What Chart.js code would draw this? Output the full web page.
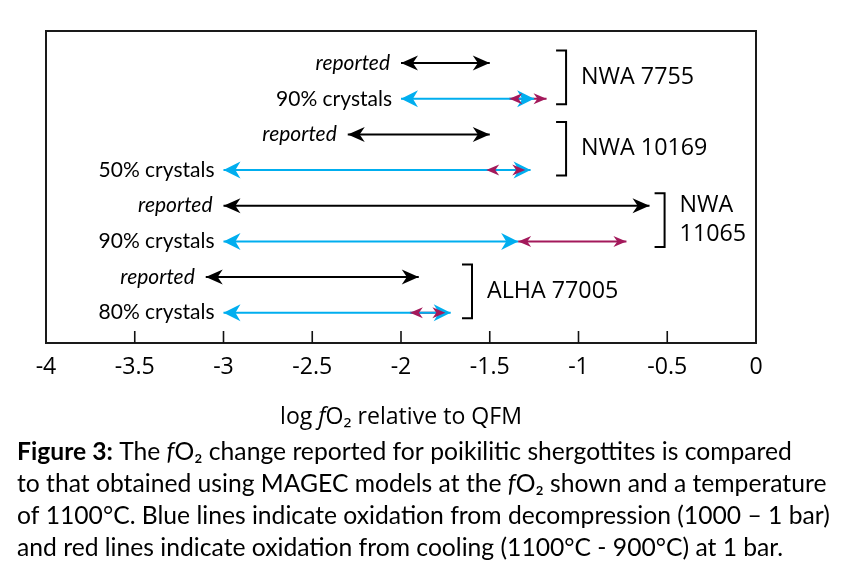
<!DOCTYPE html>
<html><head><meta charset="utf-8">
<script src="https://cdn.jsdelivr.net/npm/chart.js@4.4.1/dist/chart.umd.min.js"></script>
<style>html,body{margin:0;padding:0;background:#fff;} #wrap{position:relative;width:852px;height:571px;}</style>
</head><body><div id="wrap"><canvas id="c" width="852" height="571"></canvas></div>
<script>
// ---------------- DATA ----------------
const meteorites = [['NWA 7755'], ['NWA 10169'], ['NWA', '11065'], ['ALHA 77005']];
const reportedLabel = 'reported';
const crystalLabels = ['90% crystals', '50% crystals', '90% crystals', '80% crystals'];
const reportedFrom = [-2.0, -2.3, -3.0, -3.1];
const reportedTo   = [-1.5, -1.5, -0.6, -1.9];
const decompFrom   = [-2.0, -3.0, -3.0, -3.0];
const decompTo     = [-1.25, -1.27, -1.34, -1.72];
const coolFrom     = [-1.39, -1.52, -1.34, -1.95];
const coolTo       = [-1.18, -1.30, -0.73, -1.75];
const xTickValues  = [-4, -3.5, -3, -2.5, -2, -1.5, -1, -0.5, 0];
const xTickLabels  = ['-4', '-3.5', '-3', '-2.5', '-2', '-1.5', '-1', '-0.5', '0'];
const axisTitle = [{t: 'log '}, {t: 'f', s: 'italic'}, {t: 'O\u2082 relative to QFM'}];
const caption = [
  [{t: 'Figure 3:', w: 'bold'}, {t: ' The '}, {t: 'f', s: 'italic'}, {t: 'O\u2082 change reported for poikilitic shergottites is compared'}],
  [{t: 'to that obtained using MAGEC models at the '}, {t: 'f', s: 'italic'}, {t: 'O\u2082 shown and a temperature'}],
  [{t: 'of 1100\u00b0C. Blue lines indicate oxidation from decompression (1000 \u2013 1 bar)'}],
  [{t: 'and red lines indicate oxidation from cooling (1100\u00b0C - 900\u00b0C) at 1 bar.'}]
];

// ---------------- STYLE / LAYOUT ----------------
const BRACKET_X = [-1.07, -1.07, -0.515, -1.60];
const COL_BLACK = '#000000', COL_BLUE = '#00aeef', COL_RED = '#a3195b';
const F_MYR = '"Open Sans", "Noto Sans", sans-serif';
const F_CAL = 'Lato, "Noto Sans", sans-serif';

const mctx = document.createElement('canvas').getContext('2d');
function fontStr(seg, size, fam) { return (seg.s || 'normal') + ' ' + (seg.w || '400') + ' ' + size + 'px ' + fam; }
function segWidth(segs, size, fam) {
  let w = 0; for (const s of segs) { mctx.font = fontStr(s, size, fam); w += mctx.measureText(s.t).width; } return w;
}
function fit(segs, target, fam) { return 100 * target / segWidth(segs, 100, fam); }
function drawRich(ctx, segs, x, y, size, fam, align) {
  const w = segWidth(segs, size, fam);
  let cx = align === 'center' ? x - w / 2 : (align === 'right' ? x - w : x);
  ctx.textAlign = 'left';
  for (const s of segs) { ctx.font = fontStr(s, size, fam); ctx.fillText(s.t, cx, y); cx += ctx.measureText(s.t).width; }
}

const tickSize = fit([{t: '-2.5'}], 40, F_MYR);
const bracketSize = fit([{t: 'NWA 7755'}], 113, F_MYR);
const titleSize = fit(axisTitle, 242, F_MYR);
const rowSize = fit([{t: '90% crystals'}], 116, F_CAL);
const capSize = fit(caption[1], 810, F_CAL);

// ---------------- DATASETS ----------------
const datasets = [];
function addArrow(from, to, row, color, head, name) {
  datasets.push({label: name, data: [{x: from, y: row}, {x: to, y: row}], showLine: true,
    borderColor: color, backgroundColor: color, borderWidth: 2, pointRadius: 0, pointHoverRadius: 0, head: head});
}
meteorites.forEach((m, i) => {
  addArrow(reportedFrom[i], reportedTo[i], 2 * i + 1, COL_BLACK, {L: 17, W: 7.5}, m.join(' ') + ' reported');
});
meteorites.forEach((m, i) => {
  addArrow(decompFrom[i], decompTo[i], 2 * i + 2, COL_BLUE, {L: 17, W: 8.5}, m.join(' ') + ' decompression');
});
meteorites.forEach((m, i) => {
  addArrow(coolFrom[i], coolTo[i], 2 * i + 2, COL_RED, {L: 13, W: 5.5}, m.join(' ') + ' cooling');
});

// ---------------- PLUGINS ----------------
const decor = {
  id: 'decor',
  beforeDatasetsDraw(chart) {
    const {ctx, chartArea: a, scales: {x, y}} = chart;
    ctx.save();
    ctx.strokeStyle = '#1a1a1a'; ctx.lineWidth = 2;
    ctx.strokeRect(a.left, a.top, a.right - a.left, a.bottom - a.top);
    ctx.lineWidth = 1.6; ctx.strokeStyle = '#111';
    xTickValues.forEach(v => {
      if (v === x.min || v === x.max) return;
      const px = x.getPixelForValue(v);
      ctx.beginPath(); ctx.moveTo(px, a.bottom); ctx.lineTo(px, a.bottom - 12); ctx.stroke();
    });
    ctx.restore();
  },
  afterDatasetsDraw(chart) {
    const {ctx, chartArea: a, scales: {x, y}} = chart;
    ctx.save();
    // arrowheads
    chart.data.datasets.forEach((ds, i) => {
      const meta = chart.getDatasetMeta(i);
      const p0 = meta.data[0], p1 = meta.data[1];
      ctx.fillStyle = ds.borderColor;
      [[p1, p0], [p0, p1]].forEach(([tip, tail]) => {
        const dx = tip.x - tail.x, dy = tip.y - tail.y, len = Math.hypot(dx, dy) || 1;
        const ux = dx / len, uy = dy / len, L = ds.head.L, W = ds.head.W;
        ctx.beginPath();
        ctx.moveTo(tip.x, tip.y);
        ctx.lineTo(tip.x - ux * L - uy * W, tip.y - uy * L + ux * W);
        ctx.lineTo(tip.x - ux * L * 0.7, tip.y - uy * L * 0.7);
        ctx.lineTo(tip.x - ux * L + uy * W, tip.y - uy * L - ux * W);
        ctx.closePath(); ctx.fill();
      });
    });
    // row labels
    ctx.fillStyle = '#000'; ctx.textBaseline = 'middle';
    meteorites.forEach((m, i) => {
      const yr = y.getPixelForValue(2 * i + 1), yc = y.getPixelForValue(2 * i + 2);
      const xr = x.getPixelForValue(reportedFrom[i]) - 11;
      const xc = x.getPixelForValue(Math.min(decompFrom[i], coolFrom[i])) - 9;
      drawRich(ctx, [{t: reportedLabel, s: 'italic'}], xr, yr, rowSize, F_CAL, 'right');
      drawRich(ctx, [{t: crystalLabels[i]}], xc, yc, rowSize, F_CAL, 'right');
      // bracket
      const bx = x.getPixelForValue(BRACKET_X[i]);
      const top = yr - 12.5, bot = yc + 5.5;
      ctx.strokeStyle = '#000'; ctx.lineWidth = 2;
      ctx.beginPath(); ctx.moveTo(bx - 10, top); ctx.lineTo(bx, top); ctx.lineTo(bx, bot); ctx.lineTo(bx - 10, bot); ctx.stroke();
      const mid = (top + bot) / 2, lh = 29;
      m.forEach((line, k) => {
        drawRich(ctx, [{t: line}], bx + 15, mid + (k - (m.length - 1) / 2) * lh, bracketSize, F_MYR, 'left');
      });
    });
    // axis title
    ctx.textBaseline = 'alphabetic';
    drawRich(ctx, axisTitle, (a.left + a.right) / 2, 424, titleSize, F_MYR, 'center');
    // caption
    caption.forEach((line, k) => drawRich(ctx, line, 17, 460 + k * 32, capSize, F_CAL, 'left'));
    ctx.restore();
  }
};

new Chart(document.getElementById('c'), {
  type: 'scatter',
  data: {datasets},
  options: {
    responsive: false, maintainAspectRatio: false, animation: false,
    layout: {padding: {left: 46, right: 96, top: 31, bottom: 571 - 343 - 50}},
    plugins: {legend: {display: false}, tooltip: {enabled: false}},
    events: [],
    scales: {
      x: {
        type: 'linear', min: -4, max: 0, position: 'bottom',
        grid: {display: false, drawTicks: false}, border: {display: false},
        afterBuildTicks: s => { s.ticks = xTickValues.map(v => ({value: v})); },
        ticks: {color: '#000', padding: 11, maxRotation: 0, autoSkip: false,
          font: {family: F_MYR, size: tickSize},
          callback: (v, i) => xTickLabels[i]},
        afterFit: s => { s.height = 50; }
      },
      y: {type: 'linear', display: false, min: 0.1, max: 8.85, reverse: true}
    }
  },
  plugins: [decor]
});
</script></body></html>
